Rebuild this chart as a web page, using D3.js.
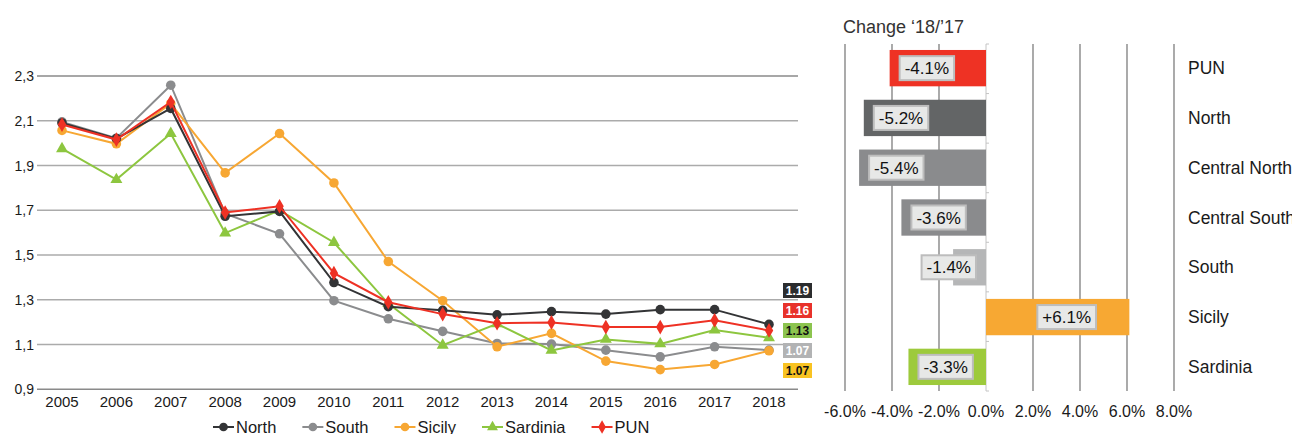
<!DOCTYPE html>
<head>
  <meta charset="utf-8">
  <script src="https://d3js.org/d3.v7.min.js"></script>
  <style>
    body { margin: 0; background: #fff; }
    svg { display: block; font-family: "Liberation Sans", Arial, sans-serif; }
  </style>
</head>
<body>
  <script>
    // line chart data
    var years = [2005, 2006, 2007, 2008, 2009, 2010, 2011, 2012, 2013, 2014, 2015, 2016, 2017, 2018];
    var north = [2.09, 2.02, 2.155, 1.673, 1.695, 1.377, 1.269, 1.253, 1.233, 1.247, 1.236, 1.256, 1.256, 1.19];
    var south = [2.095, 2.022, 2.259, 1.685, 1.595, 1.296, 1.215, 1.159, 1.105, 1.102, 1.075, 1.045, 1.09, 1.075];
    var sicily = [2.057, 1.997, 2.177, 1.867, 2.043, 1.822, 1.471, 1.296, 1.09, 1.15, 1.026, 0.988, 1.011, 1.072];
    var sardinia = [1.975, 1.837, 2.043, 1.598, 1.70, 1.556, 1.283, 1.097, 1.193, 1.074, 1.123, 1.103, 1.165, 1.13];
    var pun = [2.083, 2.016, 2.184, 1.69, 1.718, 1.419, 1.289, 1.236, 1.195, 1.199, 1.178, 1.178, 1.208, 1.163];
    var yTicks = [0.9, 1.1, 1.3, 1.5, 1.7, 1.9, 2.1, 2.3];

    // 2018 value boxes, top to bottom
    var endNames = ["North", "PUN", "Sardinia", "South", "Sicily"];
    var endLabels = ["1.19", "1.16", "1.13", "1.07", "1.07"];

    // bar chart data
    var categories = ["PUN", "North", "Central North", "Central South", "South", "Sicily", "Sardinia"];
    var changes = [-4.1, -5.2, -5.4, -3.6, -1.4, 6.1, -3.3];
    var changeTicks = [-6, -4, -2, 0, 2, 4, 6, 8];

    var series = [
      { name: "North", values: north, color: "#333436", shape: "circle" },
      { name: "South", values: south, color: "#8b8c8e", shape: "circle" },
      { name: "Sicily", values: sicily, color: "#f7a733", shape: "circle" },
      { name: "Sardinia", values: sardinia, color: "#8dc63f", shape: "triangle" },
      { name: "PUN", values: pun, color: "#ee3124", shape: "diamond" }
    ];
    var boxStyle = {
      North: { bg: "#2b2c2e", fg: "#fff" },
      PUN: { bg: "#e8322b", fg: "#fff" },
      Sardinia: { bg: "#8cc44f", fg: "#111" },
      South: { bg: "#b2b3b4", fg: "#fff" },
      Sicily: { bg: "#f9c322", fg: "#111" }
    };
    var barColors = {
      "PUN": "#ee3224", "North": "#636566", "Central North": "#8a8b8d",
      "Central South": "#8a8b8d", "South": "#b5b6b7", "Sicily": "#f7a833", "Sardinia": "#9dca3c"
    };

    var svg = d3.select("body").append("svg")
      .attr("width", 1292)
      .attr("height", 434);

    // ---------- line chart ----------
    var xScale = d3.scalePoint().domain(years).range([62, 769]);
    var yScale = d3.scaleLinear().domain([0.9, 2.3]).range([389.3, 76]);
    var gridLeft = 37, gridRight = 798;

    var grid = svg.append("g");
    grid.selectAll("line")
      .data(yTicks)
      .enter().append("line")
      .attr("x1", gridLeft).attr("x2", gridRight)
      .attr("y1", function(d) { return yScale(d); })
      .attr("y2", function(d) { return yScale(d); })
      .attr("stroke", function(d, i) { return (i === 0 || i === yTicks.length - 1) ? "#8a8a8a" : "#ababab"; })
      .attr("stroke-width", 1.5);

    grid.selectAll("text")
      .data(yTicks)
      .enter().append("text")
      .attr("x", 34)
      .attr("y", function(d) { return yScale(d) + 5; })
      .attr("text-anchor", "end")
      .attr("font-size", 14)
      .attr("fill", "#1a1a1a")
      .text(function(d) { return d.toFixed(1).replace(".", ","); });

    svg.append("g").selectAll("text")
      .data(years)
      .enter().append("text")
      .attr("x", function(d) { return xScale(d); })
      .attr("y", 407)
      .attr("text-anchor", "middle")
      .attr("font-size", 15)
      .attr("fill", "#1a1a1a")
      .text(function(d) { return d; });

    var line = d3.line()
      .x(function(d, i) { return xScale(years[i]); })
      .y(function(d) { return yScale(d); });

    function marker(sel, shape, color, size) {
      var sym = shape === "triangle" ? d3.symbolTriangle : (shape === "diamond" ? d3.symbolDiamond : d3.symbolCircle);
      return sel.append("path")
        .attr("d", d3.symbol().type(sym).size(size))
        .attr("fill", color);
    }

    var order = ["South", "Sicily", "Sardinia", "North", "PUN"];
    order.forEach(function(name) {
      var s = series.find(function(d) { return d.name === name; });
      var g = svg.append("g");
      g.append("path")
        .datum(s.values)
        .attr("d", line)
        .attr("fill", "none")
        .attr("stroke", s.color)
        .attr("stroke-width", 2);
      s.values.forEach(function(v, i) {
        marker(g, s.shape, s.color, s.shape === "circle" ? 72 : 62)
          .attr("transform", "translate(" + xScale(years[i]) + "," + yScale(v) + ")");
      });
    });

    // 2018 value boxes
    var boxes = svg.append("g");
    endNames.forEach(function(name, i) {
      var y0 = 283 + i * 20;
      boxes.append("rect")
        .attr("x", 783).attr("y", y0)
        .attr("width", 29).attr("height", 15)
        .attr("fill", boxStyle[name].bg);
      boxes.append("text")
        .attr("x", 797.5).attr("y", y0 + 12)
        .attr("text-anchor", "middle")
        .attr("font-size", 12)
        .attr("font-weight", "bold")
        .attr("fill", boxStyle[name].fg)
        .text(endLabels[i]);
    });

    // legend
    var legend = svg.append("g");
    var lx = 213;
    series.forEach(function(s) {
      legend.append("line")
        .attr("x1", lx).attr("x2", lx + 21)
        .attr("y1", 427).attr("y2", 427)
        .attr("stroke", s.color).attr("stroke-width", 2);
      marker(legend, s.shape, s.color, s.shape === "circle" ? 60 : 52)
        .attr("transform", "translate(" + (lx + 10.5) + ",427)");
      var t = legend.append("text")
        .attr("x", lx + 23).attr("y", 433)
        .attr("font-size", 16.5)
        .attr("fill", "#1a1a1a")
        .text(s.name);
      lx += 23 + t.node().getComputedTextLength() + 26;
    });

    // ---------- bar chart ----------
    var xBar = d3.scaleLinear().domain([-6, 8]).range([845, 1174]);
    var yBar = d3.scaleBand().domain(categories).range([44, 391]).paddingInner(0.27).paddingOuter(0.12);

    svg.append("text")
      .attr("x", 843).attr("y", 33)
      .attr("font-size", 18)
      .attr("fill", "#333")
      .text("Change \u201818/\u201917");

    var bg = svg.append("g");
    bg.selectAll("line.grid")
      .data(changeTicks.filter(function(d) { return d !== 0; }))
      .enter().append("line")
      .attr("class", "grid")
      .attr("x1", function(d) { return xBar(d); })
      .attr("x2", function(d) { return xBar(d); })
      .attr("y1", 44).attr("y2", 391)
      .attr("stroke", "#7d7d7d")
      .attr("stroke-width", 1.3);

    // zero axis with small ticks between categories
    bg.append("line")
      .attr("x1", xBar(0)).attr("x2", xBar(0))
      .attr("y1", 44).attr("y2", 391)
      .attr("stroke", "#c4c4c4").attr("stroke-width", 1);
    d3.range(categories.length + 1).forEach(function(i) {
      var yy = 44 + i * (347 / categories.length);
      bg.append("line")
        .attr("x1", xBar(0)).attr("x2", xBar(0) + 3)
        .attr("y1", yy).attr("y2", yy)
        .attr("stroke", "#c4c4c4").attr("stroke-width", 1);
    });

    bg.selectAll("text.tick")
      .data(changeTicks)
      .enter().append("text")
      .attr("class", "tick")
      .attr("x", function(d) { return xBar(d); })
      .attr("y", 417)
      .attr("text-anchor", "middle")
      .attr("font-size", 16)
      .attr("fill", "#1a1a1a")
      .text(function(d) { return d.toFixed(1) + "%"; });

    var bars = svg.append("g");
    categories.forEach(function(c, i) {
      var v = changes[i];
      var y0 = yBar(c);
      var x0 = xBar(Math.min(0, v)), x1 = xBar(Math.max(0, v));
      bars.append("rect")
        .attr("x", x0).attr("y", y0)
        .attr("width", x1 - x0).attr("height", yBar.bandwidth())
        .attr("fill", barColors[c]);

      var label = (v > 0 ? "+" : "") + v.toFixed(1) + "%";
      var lg = bars.append("g");
      var t = lg.append("text")
        .attr("font-size", 17)
        .attr("fill", "#111")
        .text(label);
      var w = t.node().getComputedTextLength() + 10;
      var bx;
      if (v < 0) {
        bx = Math.min(x0 + 10, xBar(0) - 10 - w);
      } else {
        bx = (x0 + x1) / 2 - w / 2 + 9;
      }
      var by = y0 + yBar.bandwidth() / 2 - 12;
      lg.insert("rect", "text")
        .attr("x", bx).attr("y", by)
        .attr("width", w).attr("height", 24)
        .attr("fill", "#e7e8e7")
        .attr("stroke", "#bdbdbd")
        .attr("stroke-width", 2);
      t.attr("x", bx + 5).attr("y", by + 18);

      bars.append("text")
        .attr("x", 1188)
        .attr("y", y0 + yBar.bandwidth() / 2 + 6)
        .attr("font-size", 17.5)
        .attr("fill", "#1a1a1a")
        .text(c);
    });
  </script>
</body>
